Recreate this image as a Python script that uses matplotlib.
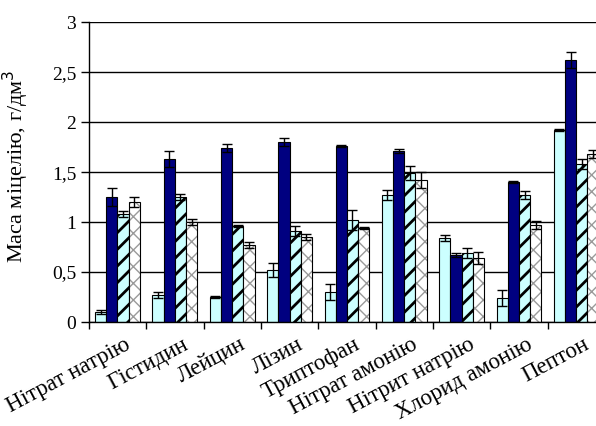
import numpy as np
import matplotlib
matplotlib.use("Agg")
import matplotlib.pyplot as plt

categories = ["Нітрат натрію", "Гістидин", "Лейцин", "Лізин", "Триптофан",
              "Нітрат амонію", "Нітрит натрію", "Хлорид амонію", "Пептон"]

s1 = [0.10, 0.27, 0.25, 0.52, 0.30, 1.27, 0.84, 0.24, 1.92]
s1_err = [0.02, 0.03, 0.01, 0.07, 0.08, 0.05, 0.03, 0.08, 0.01]
s2 = [1.25, 1.63, 1.74, 1.80, 1.76, 1.71, 0.67, 1.40, 2.62]
s2_err = [0.09, 0.08, 0.04, 0.04, 0.01, 0.02, 0.02, 0.01, 0.08]
s3 = [1.08, 1.25, 0.96, 0.91, 1.02, 1.49, 0.69, 1.27, 1.58]
s3_err = [0.03, 0.03, 0.01, 0.05, 0.10, 0.07, 0.05, 0.04, 0.05]
s4 = [1.20, 1.00, 0.77, 0.85, 0.94, 1.42, 0.64, 0.97, 1.68]
s4_err = [0.05, 0.03, 0.03, 0.03, 0.01, 0.08, 0.06, 0.04, 0.04]

yticks = [0, 0.5, 1, 1.5, 2, 2.5, 3]
ytick_labels = ["0", "0,5", "1", "1,5", "2", "2,5", "3"]

plt.rcParams["font.family"] = ["Liberation Serif", "DejaVu Serif"]
plt.rcParams["hatch.linewidth"] = 2.0

fig = plt.figure(figsize=(5.96, 4.26), dpi=100)
ax = fig.add_axes([0.149, 0.244, 0.866, 0.704])

x = np.arange(len(categories))
w = 0.195
offs = np.array([-1.5, -0.5, 0.5, 1.5]) * w

ax.set_axisbelow(True)
ax.yaxis.grid(True, color="black", linewidth=1.0)

ekw = dict(ecolor="black", elinewidth=1.0, capsize=3.5, capthick=1.0)

ax.bar(x + offs[0], s1, w, color="#CCFFFF", edgecolor="black", linewidth=0.8,
       yerr=s1_err, error_kw=ekw, zorder=2)
ax.bar(x + offs[1], s2, w, color="#000080", edgecolor="black", linewidth=0.8,
       yerr=s2_err, error_kw=ekw, zorder=2)
ax.bar(x + offs[2], s3, w, color="#CCFFFF", edgecolor="black", linewidth=0.8,
       hatch="//", yerr=s3_err, error_kw=ekw, zorder=2)
# cross-hatched series: grey hatch, black outline drawn on top
plt.rcParams["hatch.linewidth"] = 1.0
ax.bar(x + offs[3], s4, w, color="white", edgecolor="#9a9a9a", linewidth=0,
       hatch="xx", zorder=2)
ax.bar(x + offs[3], s4, w, color="none", edgecolor="black", linewidth=0.8,
       yerr=s4_err, error_kw=ekw, zorder=3)

ax.set_xlim(-0.5, len(categories) - 0.5)
ax.set_ylim(0, 3)
ax.set_yticks(yticks)
ax.set_yticklabels(ytick_labels, fontsize=14)
ax.tick_params(axis="y", direction="out", length=6, width=1, pad=3)

ax.set_xticks(np.arange(len(categories) + 1) - 0.5)
ax.set_xticklabels([])
ax.tick_params(axis="x", direction="out", length=5, width=1)
for xi, name in zip(x, categories):
    ax.text(xi + 0.12, -0.12, name, rotation=28, rotation_mode="anchor",
            ha="right", va="top", fontsize=16.5, transform=ax.transData)

for side in ["top", "right"]:
    ax.spines[side].set_visible(False)
for side in ["left", "bottom"]:
    ax.spines[side].set_linewidth(1.0)

ax.set_ylabel("Маса міцелію, г/дм$^3$", fontsize=16)
ax.yaxis.set_label_coords(-0.112, 0.52)

fig.savefig("out.png", dpi=100)
